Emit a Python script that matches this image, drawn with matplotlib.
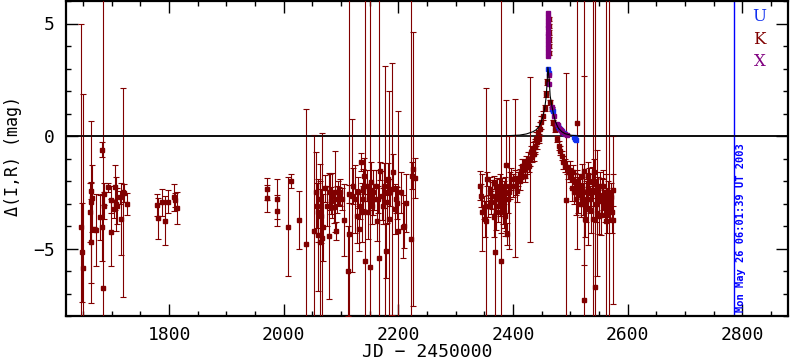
import matplotlib
matplotlib.use('Agg')
import matplotlib.pyplot as plt
from matplotlib.ticker import MultipleLocator

plt.rcParams['font.family'] = ['DejaVu Sans Mono']

DARKRED = '#800000'
BLUE = '#1030f0'
PURPLE = '#800080'

# K band (dark red) photometry: JD-2450000, delta mag, error
k_t = [
    1646, 1647.5, 1649.6, 1662, 1663, 1663.5, 1664.5, 1666, 1668, 1673,
    1679, 1682, 1682.5, 1685, 1685.5, 1687, 1694, 1698, 1699, 1703,
    1706, 1708, 1709.5, 1714, 1716, 1719, 1721, 1727, 1779, 1781,
    1788, 1792, 1798, 1808, 1811, 1814,
    1970.5, 1971.5, 1988, 1989, 2007.7, 2013, 2027, 2038.5,
    2053.6, 2056, 2057.7, 2059.5, 2060.6, 2062.4, 2063.5, 2065.3, 2066.5, 2069.3,
    2072.3, 2075.2, 2079.2, 2081, 2082.7, 2085, 2088, 2089.7, 2091, 2092.6,
    2094.4, 2096.7, 2098.4, 2101.4, 2105.4, 2113.6, 2113, 2114.7, 2118.8,
    2121.7, 2124.6, 2127.6, 2130.4, 2132.2, 2133.3, 2134.5, 2136.3, 2138, 2139.1,
    2140.3, 2142.6, 2145, 2147.9, 2149.6, 2150.8, 2152, 2153.7, 2156.6, 2158.3,
    2161.3, 2162.5, 2165.3, 2167, 2168.2, 2171.2, 2172.9, 2175.2, 2177, 2178.2,
    2179.9, 2182.7, 2184.5, 2185.7, 2188.7, 2191.4, 2194.4, 2196.2, 2198.4, 2200.2,
    2204.9, 2207.9, 2210.6, 2213.6, 2221.8, 2224.6, 2226.3, 2229.3,
    2343.0, 2344.7, 2346.5, 2348.8, 2350.6, 2352.3, 2354.6, 2356.4, 2359.3, 2360.4,
    2362.2, 2363.9, 2366.3, 2367.4, 2368.0, 2369.8, 2370.9, 2372.1, 2373.8, 2375.0,
    2375.6, 2376.7, 2377.9, 2378.5, 2379.6, 2380.8, 2381.4, 2382.5, 2383.7, 2384.3,
    2385.5, 2386.6, 2388.4, 2389.5, 2391.3, 2393.0, 2394.2, 2397.1, 2400.0, 2402.9,
    2404.1, 2405.8, 2407.0, 2408.7, 2411.6, 2412.8, 2414.5, 2415.7, 2417.5, 2420.4,
    2421.5, 2423.3, 2424.4, 2426.2, 2427.3, 2429.9, 2430.2, 2432.0, 2433.2, 2434.9,
    2436.1, 2437.8, 2439.0, 2440.7, 2441.9, 2443.6, 2444.8, 2446.5, 2449.4, 2452.4,
    2456.5, 2458.5, 2460.0,
    2462.4, 2462.6, 2462.3, 2462.7, 2462.5, 2462.4,
    2464.9, 2467.8, 2470.7, 2473.7, 2476.6, 2479.5, 2482.4, 2485.3, 2488.2, 2491.1,
    2492.3, 2494.0, 2496.9, 2499.8, 2502.7, 2505.6, 2508.6, 2511.5, 2512.6, 2514.4,
    2515.5, 2517.3, 2520.2, 2523.1, 2524.3, 2524.8, 2526.0, 2528.9, 2530.7, 2531.8,
    2534.7, 2537.6, 2540.5, 2542.3, 2543.5, 2544.6, 2546.4, 2549.3, 2552.2, 2555.1,
    2558.0, 2560.9, 2562.0, 2566.7, 2567.9, 2569.6, 2572.6, 2575.4,
    2500, 2503, 2506, 2510, 2513, 2518, 2521, 2527, 2533, 2536,
    2539, 2545, 2548, 2551, 2554, 2557, 2559, 2563, 2565, 2571, 2574,
]
k_mag = [
    -4.03, -5.17, -5.85, -3.39, -2.43, -4.73, -2.95, -2.77, -4.13, -4.18,
    -3.61, -4.06, -0.6, -6.77, -3.1, -2.58, -2.28, -4.28, -2.84, -3.24,
    -2.28, -3.02, -3.1, -2.73, -3.69, -2.5, -2.55, -3.02, -3.07, -3.66,
    -2.95, -3.76, -2.92, -2.73, -2.84, -3.21,
    -2.77, -2.36, -2.8, -3.32, -4.03, -2.01, -3.73, -4.8,
    -4.24, -2.5, -3.1, -4.4, -3.39, -4.73, -2.8, -3.54, -4.55, -4.06,
    -2.33, -3.1, -4.46, -2.5, -2.87, -2.65, -3.17, -2.47, -4.21, -2.8,
    -2.5, -2.65, -2.5, -2.8, -3.73, -2.58, -5.99, -4.36, -2.65,
    -2.21, -2.8, -3.54, -2.5, -4.13, -3.1, -1.17, -3.39, -2.36, -2.8,
    -1.76, -5.54, -2.21, -3.39, -2.8, -5.84, -2.06, -3.1, -2.5, -2.8,
    -2.21, -3.76, -2.8, -5.44, -1.54, -2.65, -3.1, -2.21, -2.5, -5.13,
    -2.95, -1.91, -3.69, -2.5, -2.36, -1.61, -3.24, -2.8, -2.98, -4.21,
    -2.5, -4.03, -3.99, -2.98, -4.58, -1.76, -1.47, -1.87,
    -2.21, -2.65, -3.39, -3.17, -3.69, -3.76, -1.91, -3.10, -2.50, -2.36,
    -2.95, -2.65, -2.06, -3.61, -5.17, -2.80, -3.39, -2.36, -3.10, -2.80,
    -2.50, -2.21, -2.95, -5.54, -3.39, -2.36, -2.80, -3.10, -3.39, -2.50,
    -3.54, -2.21, -1.30, -4.36, -2.80, -2.50, -2.21, -1.91, -2.21, -1.87,
    -1.91, -2.21, -2.43, -1.91, -1.76, -1.99, -1.61, -1.32, -1.32, -1.47,
    -1.76, -1.17, -1.39, -1.02, -1.32, -1.05, -1.02, -0.73, -0.87, -0.58,
    -0.80, -0.43, -0.50, -0.13, -0.28, 0.16, -0.13, 0.31, 0.61, 0.90,
    1.25, 1.87, 2.4,
    5.2, 4.9, 4.6, 4.3, 4.0, 3.7,
    1.50, 1.20, 0.61, 0.31, -0.13, -0.43, -0.65, -0.87, -1.17, -1.32,
    -2.86, -1.39, -1.61, -1.76, -1.91, -1.61, -2.06, -1.99, 0.6, -2.21,
    -2.21, -2.50, -1.76, -2.80, -1.54, -7.3, -3.69, -2.50, -1.76, -3.24,
    -2.80, -2.06, -3.69, -1.61, -6.73, -2.50, -3.42, -3.54, -2.21, -2.65,
    -2.21, -3.10, -3.76, -2.80, -3.2, -3.10, -3.39, -3.75,
    -1.5, -2.3, -2.5, -2.8, -2.6, -3.0, -2.3, -2.9, -2.0, -3.3,
    -2.4, -3.0, -2.3, -2.9, -3.5, -2.6, -3.0, -2.5, -3.3, -2.7, -2.4,
]
k_err = [
    9.0, 2.2, 7.7, 1.3, 0.35, 2.7, 3.6, 1.5, 0.1, 1.6,
    1.0, 1.5, 0.35, 14, 0.6, 0.5, 0.2, 1.5, 0.6, 0.4,
    1.0, 1.2, 0.8, 0.3, 1.6, 4.65, 0.4, 0.5, 0.5, 0.9,
    0.6, 1.1, 0.5, 0.6, 0.3, 0.7,
    0.6, 0.5, 0.9, 0.7, 2.2, 0.3, 1.3, 6.0,
    4.3, 1.8, 1.0, 2.5, 1.3, 3.5, 0.8, 1.2, 4.7, 1.5,
    0.6, 0.9, 2.8, 0.8, 0.6, 1.0, 0.7, 1.8, 0.4, 0.6,
    0.5, 0.4, 0.6, 0.5, 1.6, 0.4, 2.0, 14, 3.4,
    0.8, 1.5, 1.2, 0.7, 1.0, 0.6, 0.4, 1.3, 0.9, 0.6,
    0.8, 14, 0.7, 1.2, 0.5, 14, 0.9, 0.8, 1.0, 0.5,
    0.7, 0.9, 0.6, 14, 0.4, 1.1, 0.8, 1.0, 5.6, 1.2,
    0.9, 0.7, 5.7, 0.6, 5.6, 0.8, 1.1, 0.6, 0.7, 5.3,
    0.9, 1.4, 1.0, 1.3, 14, 0.6, 6.1, 0.9,
    0.65, 0.5, 1.7, 0.5, 0.8, 5.9, 0.3, 0.5, 0.7, 0.4,
    0.5, 0.6, 0.3, 0.9, 3.0, 0.6, 0.8, 0.5, 0.7, 0.4,
    0.6, 0.5, 0.6, 14, 0.9, 0.5, 0.6, 0.8, 0.7, 0.5,
    0.9, 0.4, 2.9, 0.5, 0.6, 2.5, 0.6, 0.5, 0.5, 3.5,
    0.4, 0.4, 0.5, 0.3, 0.3, 0.4, 0.3, 0.3, 0.3, 0.4,
    0.3, 0.3, 0.3, 0.3, 0.3, 3.66, 0.3, 0.3, 0.3, 0.3,
    0.3, 0.3, 0.3, 0.3, 0.3, 0.3, 0.2, 0.3, 0.3, 0.2,
    0.15, 0.15, 0.15,
    0.1, 0.1, 0.1, 0.1, 0.1, 0.1,
    0.1, 0.1, 0.1, 0.15, 0.15, 0.2, 0.2, 0.2, 0.3, 0.3,
    5.66, 0.3, 0.3, 0.3, 0.4, 0.3, 0.4, 0.5, 5.6, 0.5,
    0.5, 0.6, 0.5, 0.7, 4.2, 14, 0.8, 0.6, 0.6, 1.6,
    0.6, 0.7, 14, 0.6, 14, 0.6, 2.78, 0.8, 0.6, 0.8,
    0.7, 0.7, 14, 0.8, 14, 0.7, 0.9, 3.73,
    0.4, 0.6, 0.5, 0.7, 0.8, 0.6, 0.5, 0.9, 0.6, 1.0,
    0.7, 0.8, 0.5, 0.6, 0.9, 0.7, 0.6, 0.8, 1.0, 0.6, 0.7,
]

# U band (blue)
u_t = [2461.5, 2462.3, 2468.5, 2470.0, 2479.0, 2481.0, 2485.0, 2489.0,
       2507.0, 2508.5, 2509.0, 2510.0]
u_mag = [2.98, 2.80, 1.20, 1.13, 0.46, 0.35, 0.22, 0.15,
         -0.05, -0.13, -0.10, -0.17]
u_err = [0.05] * len(u_t)

# X (purple)
x_t = [2461.6, 2461.7, 2461.5, 2461.8, 2461.6, 2461.7, 2461.5, 2461.8,
       2461.6, 2461.7, 2461.5, 2461.8, 2463.0, 2463.5,
       2468.0, 2472.0, 2476.0, 2478.0, 2482.0, 2484.0, 2486.0, 2490.0, 2494.0]
x_mag = [5.45, 5.30, 5.10, 4.95, 4.80, 4.60, 4.45, 4.25,
         4.10, 3.90, 3.75, 3.55, 2.70, 2.30,
         1.30, 0.90, 0.55, 0.50, 0.30, 0.25, 0.20, 0.10, 0.05]
x_err = [0.05] * len(x_t)

# lens model curve
model_t = [1620, 2380, 2411.6, 2423.3, 2434.9, 2440.7, 2446.5, 2451.2, 2455.3,
           2458.2, 2459.9, 2461.0, 2463.2, 2464.9, 2467.8, 2470.7, 2473.7,
           2476.6, 2479.5, 2485.3, 2491.1, 2502.7, 2514.4, 2880]
model_mag = [0, 0, 0.04, 0.09, 0.19, 0.28, 0.46, 0.76, 1.2,
             1.79, 2.53, 3.05, 2.53, 1.79, 1.35, 0.98, 0.68,
             0.49, 0.34, 0.19, 0.1, 0.03, 0, 0]

now_jd = 2785.75
now_label = 'Mon May 26 06:01:39 UT 2003'

fig = plt.figure(figsize=(7.9, 3.62), dpi=100)
ax = fig.add_axes([66 / 790, 46 / 362, 722 / 790, 315 / 362])

ax.axhline(0, color='black', lw=1.2, zorder=1)
ax.plot(model_t, model_mag, color='black', lw=0.8, zorder=5)
ax.axvline(now_jd, color='blue', lw=1.0, zorder=1)

kw = dict(fmt='s', markersize=2.3, elinewidth=0.8, capsize=2, capthick=0.8)
ax.errorbar(k_t, k_mag, yerr=k_err, color=DARKRED, zorder=3, **kw)
ax.errorbar(u_t, u_mag, yerr=u_err, color=BLUE, zorder=4,
            fmt='s', markersize=3.3, elinewidth=0.8, capsize=1.5)
ax.errorbar(x_t, x_mag, yerr=x_err, color=PURPLE, zorder=4,
            fmt='s', markersize=3.0, elinewidth=0.8, capsize=1.5)

ax.text(now_jd + 13, -7.8, now_label, rotation=90, ha='center', va='bottom',
        color='blue', fontsize=7.5, fontweight='bold')

for lab, col, y in [('U', BLUE, 5.33), ('K', DARKRED, 4.31), ('X', PURPLE, 3.33)]:
    ax.text(2830, y, lab, color=col, ha='center', va='center',
            family='DejaVu Serif', fontsize=12)

ax.set_xlim(1620, 2880)
ax.set_ylim(-8, 6)
ax.xaxis.set_major_locator(MultipleLocator(200))
ax.xaxis.set_minor_locator(MultipleLocator(50))
ax.yaxis.set_major_locator(MultipleLocator(5))
ax.yaxis.set_minor_locator(MultipleLocator(1))
ax.tick_params(which='both', direction='in', top=True, right=True,
               labelsize=13, width=1.0, colors='black')
ax.tick_params(which='major', length=8.5)
ax.tick_params(which='minor', length=3.6)
ax.tick_params(axis='x', pad=7)
ax.tick_params(axis='y', pad=8)
for sp in ax.spines.values():
    sp.set_linewidth(1.6)

ax.set_xlabel('JD \u2212 2450000', fontsize=13)
ax.xaxis.set_label_coords(0.5, -0.085)
fig.text(13 / 790, 1 - 156 / 362, '\u0394(I,R) (mag)', rotation=90,
         ha='center', va='center', fontsize=12)

fig.savefig('out.png', dpi=100)
